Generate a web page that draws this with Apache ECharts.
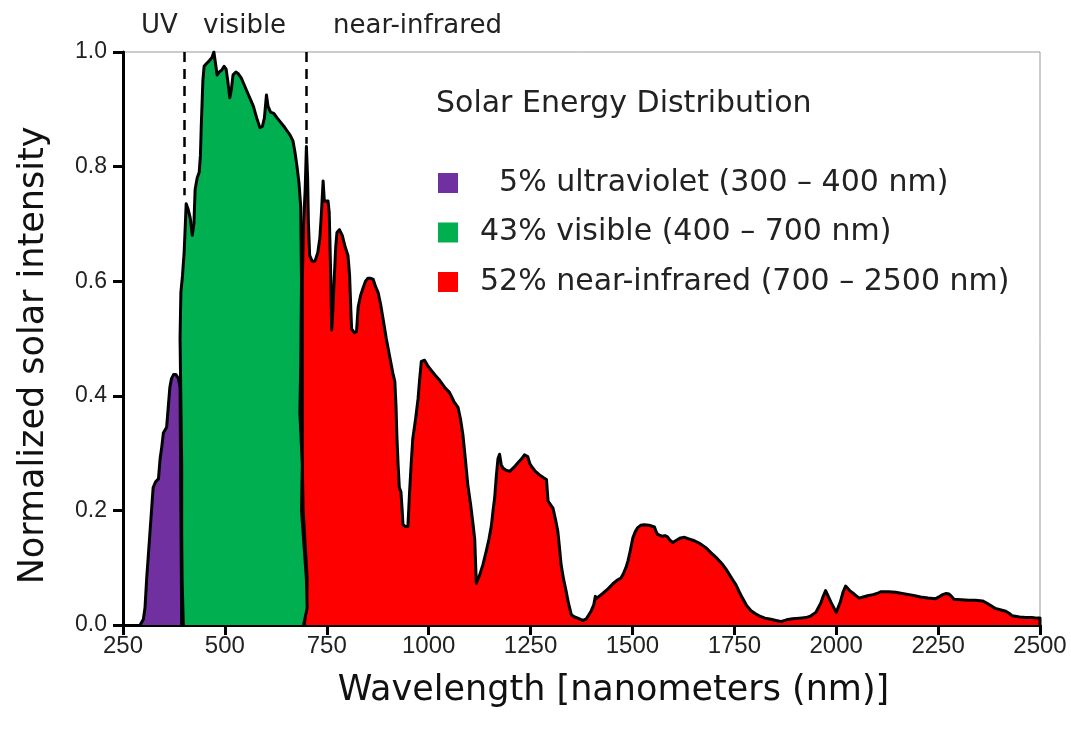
<!DOCTYPE html>
<html>
<head>
<meta charset="utf-8">
<script src="https://cdn.jsdelivr.net/npm/echarts@6/dist/echarts.min.js"></script>
<style>html,body{margin:0;padding:0;background:#fff;}#c{width:1071px;height:737px;}</style>
</head>
<body>
<div id="c"></div>
<script>
// ---- data (wavelength nm, normalized intensity) ----
const uvNm  = [292,300,304,308,312,316,320,324,330,337,341,345,349,357,361,365,369,374,380,386,390,392,394];
const uvVal = [0,0.01,0.03,0.08,0.12,0.16,0.2,0.24,0.25,0.255,0.29,0.31,0.335,0.345,0.38,0.415,0.43,0.437,0.437,0.43,0.415,0.2,0];

const visNm  = [398,395,394,394,392,390,392,396,400,403,405,410,415,420,424,427,432,437,440,442,444,446,449,455,462,468,473,477,481,486,492,498,503,507,512,516,520,527,533,540,546,552,558,564,570,578,586,592,597,602,606,612,620,628,636,645,652,660,667,672,677,682,686,688,686,684,690,688,700,702,693];
const visVal = [0,0.08,0.16,0.28,0.39,0.5,0.58,0.61,0.65,0.7,0.735,0.725,0.71,0.68,0.7,0.76,0.78,0.79,0.82,0.87,0.91,0.95,0.975,0.98,0.985,0.99,1.0,0.98,0.96,0.965,0.968,0.975,0.97,0.95,0.92,0.935,0.96,0.965,0.962,0.955,0.945,0.935,0.925,0.915,0.905,0.885,0.868,0.87,0.885,0.925,0.905,0.895,0.893,0.885,0.878,0.87,0.863,0.855,0.845,0.825,0.8,0.77,0.73,0.6,0.45,0.37,0.28,0.2,0.08,0.03,0];

const nirNm  = [695,700,702,692,690,690,690,693,697,700,703,705,708,714,721,728,733,737,741,744,748,753,756,760,762,765,768,772,775,781,788,795,802,806,809,811,818,823,827,833,839,845,851,858,864,870,876,882,888,896,904,912,917,920,922,925,928,932,935,937,943,949,951,953,957,961,968,974,978,982,990,998,1007,1017,1027,1039,1051,1062,1072,1078,1084,1090,1096,1103,1109,1113,1115,1117,1121,1125,1133,1141,1148,1154,1158,1162,1166,1170,1174,1178,1182,1190,1199,1209,1219,1228,1235,1243,1248,1252,1262,1272,1282,1289,1291,1293,1299,1305,1311,1317,1321,1325,1331,1337,1343,1350,1358,1366,1370,1378,1386,1393,1399,1405,1409,1411,1418,1427,1440,1452,1462,1472,1478,1484,1489,1493,1497,1501,1507,1513,1520,1529,1541,1554,1558,1562,1572,1580,1586,1592,1599,1608,1618,1628,1640,1652,1666,1680,1693,1705,1713,1721,1730,1738,1746,1754,1762,1770,1780,1791,1801,1811,1825,1840,1852,1864,1878,1893,1910,1926,1938,1950,1956,1962,1968,1974,1987,2000,2010,2017,2023,2033,2044,2056,2066,2077,2090,2100,2109,2128,2146,2162,2179,2193,2207,2225,2244,2252,2261,2270,2277,2283,2289,2307,2326,2342,2359,2370,2379,2390,2400,2416,2425,2432,2450,2465,2480,2493,2500,2500];
const nirVal = [0,0.04,0.08,0.2,0.28,0.4,0.6,0.7,0.76,0.835,0.78,0.7,0.645,0.635,0.635,0.65,0.675,0.72,0.775,0.74,0.74,0.74,0.72,0.6,0.515,0.55,0.6,0.66,0.685,0.69,0.68,0.66,0.645,0.61,0.55,0.517,0.51,0.512,0.555,0.575,0.588,0.6,0.605,0.605,0.603,0.59,0.58,0.56,0.535,0.5,0.47,0.44,0.425,0.38,0.33,0.28,0.24,0.232,0.2,0.175,0.172,0.172,0.2,0.23,0.28,0.325,0.36,0.395,0.43,0.46,0.462,0.452,0.444,0.435,0.427,0.415,0.406,0.39,0.38,0.36,0.332,0.29,0.245,0.21,0.175,0.15,0.11,0.073,0.08,0.087,0.105,0.128,0.15,0.174,0.2,0.222,0.26,0.29,0.298,0.28,0.274,0.27,0.268,0.275,0.283,0.29,0.297,0.294,0.282,0.277,0.268,0.262,0.257,0.254,0.235,0.216,0.21,0.204,0.185,0.163,0.135,0.105,0.08,0.06,0.038,0.018,0.014,0.012,0.012,0.008,0.01,0.018,0.025,0.035,0.05,0.046,0.05,0.055,0.063,0.072,0.078,0.082,0.09,0.1,0.112,0.124,0.138,0.152,0.163,0.17,0.174,0.175,0.174,0.171,0.163,0.158,0.155,0.156,0.154,0.148,0.144,0.148,0.152,0.153,0.15,0.147,0.142,0.135,0.126,0.118,0.112,0.106,0.097,0.088,0.079,0.07,0.058,0.047,0.034,0.025,0.02,0.016,0.012,0.01,0.008,0.006,0.009,0.011,0.012,0.013,0.016,0.022,0.03,0.038,0.05,0.06,0.04,0.022,0.04,0.058,0.068,0.06,0.054,0.047,0.049,0.051,0.053,0.055,0.058,0.058,0.057,0.055,0.053,0.051,0.049,0.047,0.046,0.049,0.053,0.055,0.054,0.05,0.045,0.044,0.043,0.043,0.042,0.038,0.034,0.029,0.027,0.024,0.02,0.016,0.014,0.013,0.013,0.012,0.012,0];

const seriesNames = ['  5% ultraviolet (300 – 400 nm)', '43% visible (400 – 700 nm)', '52% near-infrared (700 – 2500 nm)'];
const seriesColors = ['#7030a0', '#00b050', '#ff0000'];
const regionLabels = ['UV', 'visible', 'near-infrared'];
const boundaryNm = [400, 700];
const boundaryLow = [0.75, 0.84];
const xTicks = [250, 2500, 250];
const yTicks = [0, 1, 0.2];

const pairs = (xs, ys) => xs.map((x, i) => [x, ys[i]]);

const font = 'DejaVu Sans';
const chart = echarts.init(document.getElementById('c'), null, {renderer: 'canvas'});

function mkSeries(name, color, data, z) {
  return {
    type: 'line', name: name, data: data, symbol: 'none', showSymbol: false,
    lineStyle: {color: '#000', width: 3, join: 'round'}, itemStyle: {color: color},
    areaStyle: {color: color, opacity: 1}, z: z, silent: true
  };
}

const nir = mkSeries(seriesNames[2], seriesColors[2], pairs(nirNm, nirVal), 2);
const vis = mkSeries(seriesNames[1], seriesColors[1], pairs(visNm, visVal), 3);
const uv  = mkSeries(seriesNames[0], seriesColors[0], pairs(uvNm, uvVal), 4);
vis.markLine = {
  silent: true, symbol: ['none', 'none'], label: {show: false},
  lineStyle: {color: '#000', width: 2.5, type: [10, 7]},
  data: boundaryNm.map((b, i) => [{coord: [b, yTicks[1]]}, {coord: [b, boundaryLow[i]]}])
};

const option = {
  animation: false,
  backgroundColor: '#fff',
  grid: {left: 123, right: 31, top: 52, bottom: 112, show: true, borderColor: '#999', borderWidth: 1},
  title: {
    text: 'Solar Energy Distribution', left: 431, top: 84,
    textStyle: {fontSize: 30, fontWeight: 'normal', fontFamily: font, color: '#222'}
  },
  legend: {
    orient: 'vertical', left: 433, top: 163, itemWidth: 20, itemHeight: 20, itemGap: 19.5,
    icon: 'rect', selectedMode: false,
    data: seriesNames.map((n, i) => ({name: n, itemStyle: {color: seriesColors[i], borderWidth: 0}})),
    itemStyle: {borderWidth: 0},
    formatter: n => '{t|' + n + '}',
    textStyle: {
      fontSize: 30, fontFamily: font, color: '#222',
      rich: {t: {fontSize: 30, fontFamily: font, color: '#222', padding: [0, 0, 0, 17], lineHeight: 20}}
    }
  },
  xAxis: {
    type: 'value', min: xTicks[0], max: xTicks[1], interval: xTicks[2],
    axisLine: {show: true, onZero: false, lineStyle: {color: '#000', width: 3}},
    axisTick: {show: true, length: 10, lineStyle: {color: '#000', width: 3}},
    axisLabel: {fontSize: 24, color: '#222', margin: 9, fontFamily: 'Liberation Sans', formatter: v => String(v)},
    splitLine: {show: false},
    name: 'Wavelength [nanometers (nm)]', nameLocation: 'middle', nameGap: 48,
    nameTextStyle: {fontSize: 35, fontFamily: font, color: '#111', padding: [0, 0, 0, 64]}
  },
  yAxis: {
    type: 'value', min: yTicks[0], max: yTicks[1], interval: yTicks[2],
    axisLine: {show: true, lineStyle: {color: '#000', width: 3}},
    axisTick: {show: true, length: 10, lineStyle: {color: '#000', width: 3}},
    axisLabel: {fontSize: 23, color: '#222', margin: 16, fontFamily: 'Liberation Sans', formatter: v => v.toFixed(1)},
    splitLine: {show: false},
    name: 'Normalized solar intensity', nameLocation: 'middle', nameGap: 72,
    nameTextStyle: {fontSize: 35, fontFamily: font, color: '#111', padding: [0, 34, 0, 0]}
  },
  graphic: [
    {type: 'text', left: 141, top: 13, style: {text: regionLabels[0], fontSize: 26, fontFamily: font, fill: '#222'}},
    {type: 'text', left: 203, top: 13, style: {text: regionLabels[1], fontSize: 26, fontFamily: font, fill: '#222'}},
    {type: 'text', left: 333, top: 13, style: {text: regionLabels[2], fontSize: 26, fontFamily: font, fill: '#222'}}
  ],
  series: [nir, vis, uv]
};
chart.setOption(option);
</script>
</body>
</html>
